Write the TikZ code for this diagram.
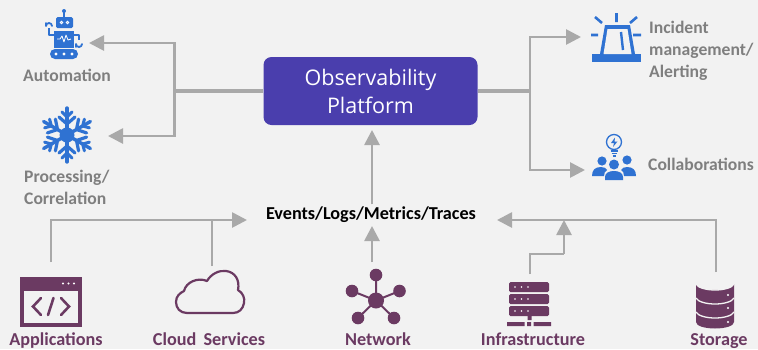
\documentclass[tikz,border=0pt]{standalone}
\usepackage{fontspec}
\setmainfont{Carlito}
\newfontfamily\titlefont{Open Sans}
\usetikzlibrary{arrows.meta}
\definecolor{bgc}{HTML}{F2F2F2}
\definecolor{conn}{HTML}{A9A9A9}
\definecolor{blueic}{HTML}{2F72D2}
\definecolor{plum}{HTML}{6B3A62}
\definecolor{greyt}{HTML}{7F7F7F}
\definecolor{plat}{HTML}{4A3EAD}
\tikzset{
  conline/.style={draw=conn,line width=2.7pt,line join=miter},
  conarrow/.style={conline,-{Triangle[length=15pt,width=15pt]}},
  greylabel/.style={text=greyt,font=\fontsize{17.6}{22}\selectfont\bfseries,align=left,inner sep=0pt},
  pluml/.style={text=plum,font=\fontsize{18.2}{20}\selectfont\bfseries,inner sep=0pt,anchor=base},
  bluef/.style={fill=blueic,draw=none},
  bluel/.style={draw=blueic,line cap=round,line join=round},
  plumf/.style={fill=plum,draw=none},
}
\begin{document}
\begin{tikzpicture}[x=1pt,y=-1pt]
\useasboundingbox (0,0) rectangle (758,349);
\fill[bgc] (0,0) rectangle (758,349);
% main nodes
\node[fill=plat,rounded corners=8pt,minimum width=214pt,minimum height=68pt,inner sep=0pt,
      text=white,align=center,font=\titlefont\fontsize{21.5}{28}\selectfont] (platform) at (370.5,91) {Observability\\Platform};
\node[font=\fontsize{18.2}{20}\selectfont\bfseries,inner sep=0pt] (events) at (371,214.5) {Events/Logs/Metrics/Traces};
% icon anchors
\coordinate (robot) at (89,43);
\coordinate (snow) at (108,136);
\coordinate (siren) at (581,37);
\coordinate (collab) at (585,170);
\coordinate (app) at (51,262);
\coordinate (cloud) at (212,266);
\coordinate (net) at (372,262);
\coordinate (infra) at (530,274);
\coordinate (stor) at (716,272);
\coordinate (jl) at (174.5,91);
\coordinate (jr) at (530,91);
\coordinate (busin) at (247,220);
\coordinate (busout) at (497,220);
\coordinate (bend) at (564,254);
\coordinate (infratip) at (564,220);
\coordinate (eventstop) at (372,130);
% connectors
\draw[conline,line width=3.2pt] (platform.west) -- (jl);
\draw[conarrow] (jl) |- (robot);
\draw[conarrow] (jl) |- (snow);
\draw[conline,line width=3.2pt] (platform.east) -- (jr);
\draw[conarrow] (jr) |- (siren);
\draw[conarrow] (jr) |- (collab);
\draw[conarrow] (events.north -| eventstop) ++(0,-2) -- (eventstop);
\draw[conarrow] (app) |- (busin);
\draw[conline] (cloud) -- (cloud |- busin);
\draw[conarrow] (net) -- (372,226);
\draw[conarrow] (stor) |- (busout);
\draw[conline] (infra) |- (bend);
\draw[conarrow] (bend) -- (infratip);
% labels
\node[greylabel] (lauto) at (67,75) {Automation};
\node[greylabel,anchor=north west] (lproc) at (24,170) {Processing/\\Correlation};
\node[greylabel,anchor=north west] (linc) at (649,21) {Incident\\management/\\Alerting};
\node[greylabel,anchor=west] (lcol) at (648,164) {Collaborations};
\node[pluml] (lapp) at (56,345) {Applications};
\node[pluml] (lcloud) at (209,345) {Cloud\, Services};
\node[pluml] (lnet) at (378,345) {Network};
\node[pluml] (linf) at (533,345) {Infrastructure};
\node[pluml] (lsto) at (719,345) {Storage};
% robot
\fill[bluef] (64,11) circle (2);
\draw[bluel,line width=1.2pt] (64,11)--(64,17);
\fill[bluef,rounded corners=1.5pt] (56,17) rectangle (73,28);
\draw[white,line width=.8pt] (61.5,22.5) circle (1.3) (67.5,22.5) circle (1.3);
\fill[bluef] (54,31) rectangle (74,48);
\draw[white,line width=.8pt,line join=round] (57,39)--(60,39)--(62,36)--(64,42)--(66,35)--(68,40)--(71,39);
\draw[bluel,line width=1.8pt,line cap=butt] (54,35)--(49,35)--(49,28);
\draw[bluel,line width=1.8pt] (46,23)--(46,26) arc (180:360:3);
\draw[bluel,line width=1.8pt,line cap=butt] (74,35)--(79,35)--(79,40);
\draw[bluel,line width=1.8pt] (76,47)--(76,44) arc (180:0:3);
\fill[bluef,rounded corners=5pt] (50,49) rectangle (78,59);
\fill[white] (56,54) circle (1.6) (64,54) circle (1.6) (72,54) circle (1.6);
% snowflake
\begin{scope}[shift={(67,135)}]
  \fill[bluef] (0,0) circle (7.5);
  \foreach \a in {30,90,150,210,270,330}{
    \begin{scope}[rotate=\a]
      \draw[blueic,line width=3.4pt,line cap=round] (0,0)--(27,0);
      \draw[blueic,line width=3.2pt,line cap=round] (11,0)--(18,-8) (11,0)--(18,8);
      \draw[blueic,line width=3pt,line cap=round] (18,0)--(23,-5) (18,0)--(23,5);
    \end{scope}}
\end{scope}
% siren
\fill[bluef] (592,54) rectangle (641,62);
\fill[bluef] (600,54) -- (605,25) -- (630,25) -- (635,54) -- cycle;
\fill[bgc] (603.5,54) -- (607.5,29) -- (627.5,29) -- (631.5,54) -- cycle;
\draw[blueic,line width=2.4pt] (621,32) -- (623,50);
\draw[blueic,line width=2.6pt] (591,35)--(598,35) (633,35)--(641,35) (616.5,13)--(616.5,22) (595,17)--(602,23) (637,17)--(630,23);
% collaborations
\draw[blueic,line width=1.3pt] (614,142) circle (7.5);
\fill[bluef] (615,137.5)--(611,143)--(614,143)--(613,147)--(617.5,141.5)--(614.5,141.5)--cycle;
\draw[blueic,line width=1.2pt] (610.5,151)--(617.5,151) (611.5,153.5)--(616.5,153.5) (612.5,156)--(615.5,156);
\fill[bluef] (602,161) circle (4.6) (627,160) circle (4.6) (614,164.5) circle (5);
\fill[bluef] (592,176) .. controls (592,170) and (595,167) .. (601,167) .. controls (604,167) and (606,168) .. (607,170) .. controls (605,171) and (604,173) .. (604,176) -- cycle;
\fill[bluef] (636,176) .. controls (636,170) and (633,167) .. (627,167) .. controls (624,167) and (622,168) .. (621,170) .. controls (623,171) and (624,173) .. (624,176) -- cycle;
\fill[bluef] (605,180) -- (605,177) .. controls (605,173) and (609,171) .. (614,171) .. controls (619,171) and (623,173) .. (623,177) -- (623,180) -- cycle;
% applications
\fill[plumf] (19.5,277) rectangle (82,327);
\fill[bgc] (24,290.5) rectangle (78,323);
\fill[white] (63,283.5) circle (1.2) (68.5,283.5) circle (1.2) (74,283.5) circle (1.2);
\draw[plum,line width=2.6pt,line cap=round,line join=miter] (41,298)--(33,306.5)--(41,315) (61,298)--(69,306.5)--(61,315) (53.5,298)--(48,315);
% cloud
\draw[plum,line width=2.2pt,line join=round] (187,313) .. controls (180,313) and (176,308) .. (176,302) .. controls (176,296) and (180,293) .. (184,291) .. controls (186,282) and (198,277) .. (207,281) .. controls (211,274) and (219,270) .. (226,271) .. controls (235,272) and (240,280) .. (238,290) .. controls (243,293) and (245,298) .. (244,303) .. controls (243,309) and (239,313) .. (233,313) -- cycle;
% network
\draw[plum,line width=2pt] (376,300.5)--(376,275) (376,300.5)--(352,291) (376,300.5)--(399.5,291) (376,300.5)--(358,318) (376,300.5)--(394,318);
\fill[plumf] (376,300.5) circle (8) (376,275) circle (6.3) (352,291) circle (6.3) (399.5,291) circle (6.3) (358,318) circle (6.3) (394,318) circle (6.3);
% infrastructure
\foreach \yy in {282,294,306}{
  \fill[plumf,rounded corners=1.5pt] (509,\yy) rectangle (549,\yy+10);
  \fill[white] (515,\yy+5) circle (.9) (521.5,\yy+5) circle (.9) (528,\yy+5) circle (.9);
}
\fill[plumf] (527.5,316) rectangle (531.5,320) (507,322) rectangle (524.5,326) (527,322) rectangle (531,326) (533.5,322) rectangle (551,326);
% storage
\fill[plumf] (696,284) arc (180:0:19 and 6) -- (734,322) .. controls (734,326) and (725,328.5) .. (715,328.5) .. controls (705,328.5) and (696,326) .. (696,322) -- cycle;
\draw[bgc,line width=1.3pt] (696,284) .. controls (698,288) and (707,290) .. (715,290) .. controls (723,290) and (732,288) .. (734,284)
  (696,298) .. controls (698,302) and (707,304) .. (715,304) .. controls (723,304) and (732,302) .. (734,298)
  (696,312) .. controls (698,316) and (707,318) .. (715,318) .. controls (723,318) and (732,316) .. (734,312);
\fill[white] (728,295) circle (1.2) (728,308) circle (1.2) (728,322) circle (1.2);
\end{tikzpicture}
\end{document}
